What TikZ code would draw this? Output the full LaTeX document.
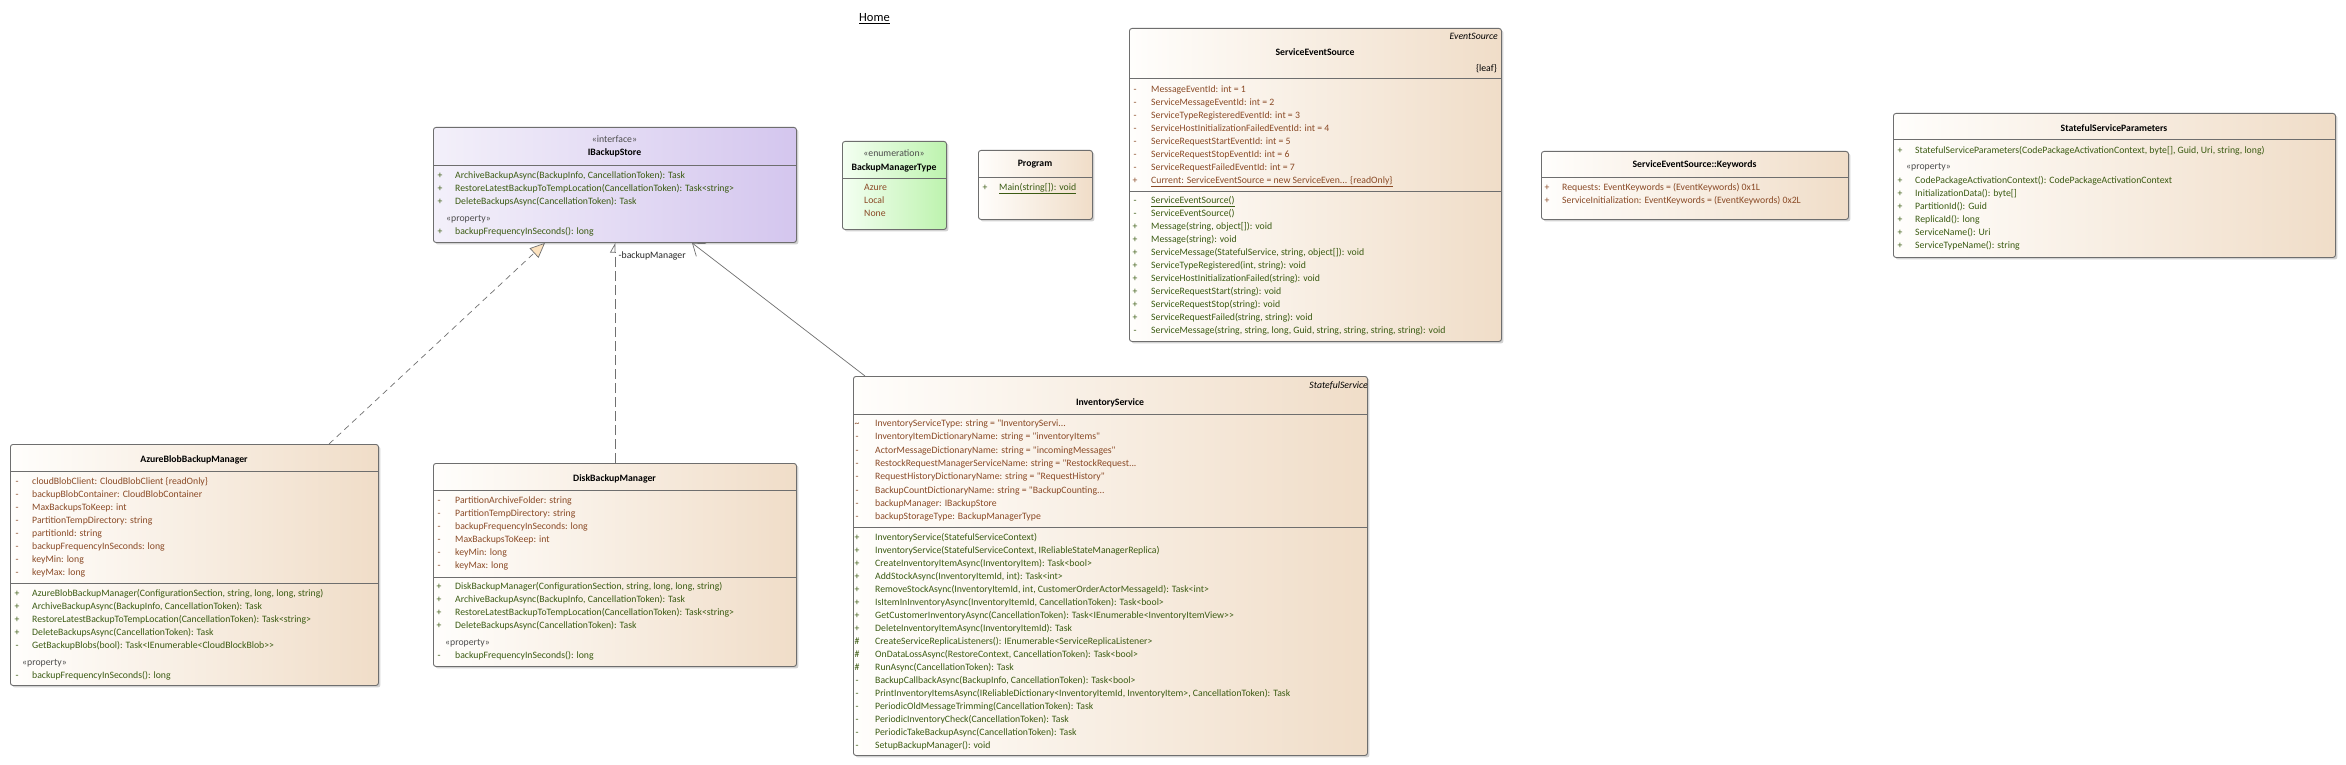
\documentclass[tikz,border=0pt]{standalone}
\usepackage{fontspec}
\newfontfamily\umlfamily{Carlito}
\usetikzlibrary{arrows.meta,shadows}

\definecolor{boxline}{HTML}{6E6E6E}
\definecolor{linecol}{HTML}{707070}
\definecolor{attrcol}{HTML}{8A4A26}
\definecolor{opcol}{HTML}{3B5B12}
\definecolor{beigeL}{HTML}{FFFEFC}
\definecolor{beigeR}{HTML}{F0DDC8}
\definecolor{lilacL}{HTML}{F3F0FA}
\definecolor{lilacR}{HTML}{D4C6EE}
\definecolor{mintL}{HTML}{F4FFF2}
\definecolor{mintR}{HTML}{BDF3AE}
\definecolor{tipfill}{HTML}{FCE2BF}

\newcommand{\qq}{\textquotedbl}

\tikzset{
	umlbox/.style={draw=boxline, line width=0.9pt, rounded corners=2.5pt, anchor=north west, inner sep=0pt,
		drop shadow={shadow xshift=2pt, shadow yshift=-2pt, fill=black!35, opacity=0.5}},
	beige/.style={left color=beigeL, right color=beigeR},
	lilac/.style={left color=lilacL, right color=lilacR},
	mint/.style={left color=mintL, right color=mintR},
	sepline/.style={draw=boxline, line width=0.9pt},
	member/.style={font=\umlfamily\fontsize{9.75}{13}\selectfont, anchor=west, inner sep=0pt, text height=7pt, text depth=2pt},
	attr/.style={member, text=attrcol},
	oper/.style={member, text=opcol},
	vattr/.style={attr, anchor=center},
	voper/.style={oper, anchor=center},
	stereo/.style={member, text=black!70},
	classname/.style={member, anchor=center, font=\umlfamily\bfseries\fontsize{9.75}{13}\selectfont},
	tagged/.style={member, anchor=east, font=\umlfamily\itshape\fontsize{9.75}{13}\selectfont},
	realize/.style={draw=linecol, line width=0.7pt, dash pattern=on 6pt off 4.5pt, -{Triangle[length=15pt, width=13pt, fill=tipfill]}},
	depend/.style={draw=linecol, line width=0.7pt, dash pattern=on 10pt off 4pt, -{Triangle[open, left, length=9pt, width=10pt]}},
	assoc/.style={draw=linecol, line width=0.7pt, -{Straight Barb[length=11pt, width=16pt, line width=0.7pt]}}
}

\begin{document}
\begin{tikzpicture}[x=1pt, y=-1pt]
	\useasboundingbox[fill=white] (0,0) rectangle (2346,765);

	\node[anchor=base west, inner sep=0pt, font=\umlfamily\fontsize{12.5}{14}\selectfont] (home) at (859,22) {\underline{Home}};

	% IBackupStore
	\node[umlbox, lilac, minimum width=363, minimum height=115] (ibs) at (433,127) {};
	\draw[sepline] ([yshift=-38pt]ibs.north west) -- ([yshift=-38pt]ibs.north east);
	\node[stereo, anchor=center] (ibs-st) at (614.5,140) {«interface»};
	\node[classname] (ibs-name) at (614.5,153) {IBackupStore};
	\foreach \vis/\txt [count=\i from 0] in {+/{ArchiveBackupAsync(BackupInfo, CancellationToken): Task},
		+/{RestoreLatestBackupToTempLocation(CancellationToken): Task<string>},
		+/{DeleteBackupsAsync(CancellationToken): Task}} {
		\node[voper] (ibs-vo\i) at (440,176+13*\i) {\vis};
		\node[oper] (ibs-o\i) at (455,176+13*\i) {\txt};
	}
	\node[stereo] (ibs-prop) at (446,219) {«property»};
	\node[voper] (ibs-vp) at (440,232) {+};
	\node[oper] (ibs-p) at (455,232) {backupFrequencyInSeconds(): long};

	% BackupManagerType
	\node[umlbox, mint, minimum width=104, minimum height=88] (bmt) at (842,141) {};
	\draw[sepline] ([yshift=-37pt]bmt.north west) -- ([yshift=-37pt]bmt.north east);
	\node[stereo, anchor=center] (bmt-st) at (894,154) {«enumeration»};
	\node[classname] (bmt-name) at (894,168) {BackupManagerType};
	\foreach \txt [count=\i from 0] in {Azure, Local, None}
		\node[attr] (bmt-a\i) at (864,188+13*\i) {\txt};

	% Program
	\node[umlbox, beige, minimum width=114, minimum height=69] (prog) at (978,150) {};
	\draw[sepline] ([yshift=-27pt]prog.north west) -- ([yshift=-27pt]prog.north east);
	\node[classname] (prog-name) at (1035,164) {Program};
	\node[voper] (prog-vo) at (985,188) {+};
	\node[oper] (prog-o) at (999,188) {\underline{Main(string[]): void}};

	% ServiceEventSource
	\node[umlbox, beige, minimum width=372, minimum height=313] (ses) at (1129,28) {};
	\draw[sepline] ([yshift=-50pt]ses.north west) -- ([yshift=-50pt]ses.north east);
	\draw[sepline] ([yshift=-163pt]ses.north west) -- ([yshift=-163pt]ses.north east);
	\node[tagged] (ses-tag) at (1498,37) {EventSource};
	\node[classname] (ses-name) at (1315,53) {ServiceEventSource};
	\node[member, anchor=east] (ses-leaf) at (1497,69) {\{leaf\}};
	\foreach \vis/\txt [count=\i from 0] in {-/{MessageEventId: int = 1}, -/{ServiceMessageEventId: int = 2},
		-/{ServiceTypeRegisteredEventId: int = 3}, -/{ServiceHostInitializationFailedEventId: int = 4},
		-/{ServiceRequestStartEventId: int = 5}, -/{ServiceRequestStopEventId: int = 6},
		-/{ServiceRequestFailedEventId: int = 7},
		+/{\underline{Current: ServiceEventSource = new ServiceEven... \{readOnly\}}}} {
		\node[vattr] (ses-va\i) at (1135,90+13*\i) {\vis};
		\node[attr] (ses-a\i) at (1151,90+13*\i) {\txt};
	}
	\foreach \vis/\txt [count=\i from 0] in {-/{\underline{ServiceEventSource()}}, -/{ServiceEventSource()},
		+/{Message(string, object[]): void}, +/{Message(string): void},
		+/{ServiceMessage(StatefulService, string, object[]): void}, +/{ServiceTypeRegistered(int, string): void},
		+/{ServiceHostInitializationFailed(string): void}, +/{ServiceRequestStart(string): void},
		+/{ServiceRequestStop(string): void}, +/{ServiceRequestFailed(string, string): void},
		-/{ServiceMessage(string, string, long, Guid, string, string, string, string): void}} {
		\node[voper] (ses-vo\i) at (1135,201+13*\i) {\vis};
		\node[oper] (ses-o\i) at (1151,201+13*\i) {\txt};
	}

	% ServiceEventSource::Keywords
	\node[umlbox, beige, minimum width=307, minimum height=68] (kw) at (1541,151) {};
	\draw[sepline] ([yshift=-26pt]kw.north west) -- ([yshift=-26pt]kw.north east);
	\node[classname] (kw-name) at (1694.5,165) {ServiceEventSource::Keywords};
	\foreach \vis/\txt [count=\i from 0] in {+/{Requests: EventKeywords = (EventKeywords) 0x1L},
		+/{ServiceInitialization: EventKeywords = (EventKeywords) 0x2L}} {
		\node[vattr] (kw-va\i) at (1547,188+13*\i) {\vis};
		\node[attr] (kw-a\i) at (1562,188+13*\i) {\txt};
	}

	% StatefulServiceParameters
	\node[umlbox, beige, minimum width=442, minimum height=144] (ssp) at (1893,113) {};
	\draw[sepline] ([yshift=-26pt]ssp.north west) -- ([yshift=-26pt]ssp.north east);
	\node[classname] (ssp-name) at (2114,129) {StatefulServiceParameters};
	\node[voper] (ssp-vc) at (1900,151) {+};
	\node[oper] (ssp-c) at (1915,151) {StatefulServiceParameters(CodePackageActivationContext, byte[], Guid, Uri, string, long)};
	\node[stereo] (ssp-prop) at (1906,167) {«property»};
	\foreach \txt [count=\i from 0] in {CodePackageActivationContext(): CodePackageActivationContext,
		InitializationData(): byte[], PartitionId(): Guid, ReplicaId(): long, ServiceName(): Uri,
		ServiceTypeName(): string} {
		\node[voper] (ssp-vp\i) at (1900,181+13*\i) {+};
		\node[oper] (ssp-p\i) at (1915,181+13*\i) {\txt};
	}

	% AzureBlobBackupManager
	\node[umlbox, beige, minimum width=368, minimum height=241] (azure) at (10,444) {};
	\draw[sepline] ([yshift=-27pt]azure.north west) -- ([yshift=-27pt]azure.north east);
	\draw[sepline] ([yshift=-139pt]azure.north west) -- ([yshift=-139pt]azure.north east);
	\node[classname] (azure-name) at (194,460) {AzureBlobBackupManager};
	\foreach \txt [count=\i from 0] in {cloudBlobClient: CloudBlobClient \{readOnly\},
		backupBlobContainer: CloudBlobContainer, MaxBackupsToKeep: int, PartitionTempDirectory: string,
		partitionId: string, backupFrequencyInSeconds: long, keyMin: long, keyMax: long} {
		\node[vattr] (azure-va\i) at (17,482+13*\i) {-};
		\node[attr] (azure-a\i) at (32,482+13*\i) {\txt};
	}
	\foreach \vis/\txt [count=\i from 0] in {+/{AzureBlobBackupManager(ConfigurationSection, string, long, long, string)},
		+/{ArchiveBackupAsync(BackupInfo, CancellationToken): Task},
		+/{RestoreLatestBackupToTempLocation(CancellationToken): Task<string>},
		+/{DeleteBackupsAsync(CancellationToken): Task},
		-/{GetBackupBlobs(bool): Task<IEnumerable<CloudBlockBlob>>}} {
		\node[voper] (azure-vo\i) at (17,594+13*\i) {\vis};
		\node[oper] (azure-o\i) at (32,594+13*\i) {\txt};
	}
	\node[stereo] (azure-prop) at (22,663) {«property»};
	\node[voper] (azure-vp) at (17,676) {-};
	\node[oper] (azure-p) at (32,676) {backupFrequencyInSeconds(): long};

	% DiskBackupManager
	\node[umlbox, beige, minimum width=363, minimum height=203] (disk) at (433,463) {};
	\draw[sepline] ([yshift=-27pt]disk.north west) -- ([yshift=-27pt]disk.north east);
	\draw[sepline] ([yshift=-114pt]disk.north west) -- ([yshift=-114pt]disk.north east);
	\node[classname] (disk-name) at (614.5,479) {DiskBackupManager};
	\foreach \txt [count=\i from 0] in {PartitionArchiveFolder: string, PartitionTempDirectory: string,
		backupFrequencyInSeconds: long, MaxBackupsToKeep: int, keyMin: long, keyMax: long} {
		\node[vattr] (disk-va\i) at (439,501+13*\i) {-};
		\node[attr] (disk-a\i) at (455,501+13*\i) {\txt};
	}
	\foreach \txt [count=\i from 0] in {{DiskBackupManager(ConfigurationSection, string, long, long, string)},
		{ArchiveBackupAsync(BackupInfo, CancellationToken): Task},
		{RestoreLatestBackupToTempLocation(CancellationToken): Task<string>},
		{DeleteBackupsAsync(CancellationToken): Task}} {
		\node[voper] (disk-vo\i) at (439,587+13*\i) {+};
		\node[oper] (disk-o\i) at (455,587+13*\i) {\txt};
	}
	\node[stereo] (disk-prop) at (445,643) {«property»};
	\node[voper] (disk-vp) at (439,656) {-};
	\node[oper] (disk-p) at (455,656) {backupFrequencyInSeconds(): long};

	% InventoryService
	\node[umlbox, beige, minimum width=514, minimum height=379] (inv) at (853,376) {};
	\draw[sepline] ([yshift=-38pt]inv.north west) -- ([yshift=-38pt]inv.north east);
	\draw[sepline] ([yshift=-151pt]inv.north west) -- ([yshift=-151pt]inv.north east);
	\node[tagged] (inv-tag) at (1368,386) {StatefulService};
	\node[classname] (inv-name) at (1110,403) {InventoryService};
	\foreach \vis/\txt [count=\i from 0] in {\textasciitilde/{InventoryServiceType: string = \qq InventoryServi...},
		-/{InventoryItemDictionaryName: string = \qq inventoryItems\qq},
		-/{ActorMessageDictionaryName: string = \qq incomingMessages\qq},
		-/{RestockRequestManagerServiceName: string = \qq RestockRequest...},
		-/{RequestHistoryDictionaryName: string = \qq RequestHistory\qq},
		-/{BackupCountDictionaryName: string = \qq BackupCounting...},
		-/{backupManager: IBackupStore}, -/{backupStorageType: BackupManagerType}} {
		\node[vattr] (inv-va\i) at (857,424+13.3*\i) {\vis};
		\node[attr] (inv-a\i) at (875,424+13.3*\i) {\txt};
	}
	\foreach \vis/\txt [count=\i from 0] in {+/{InventoryService(StatefulServiceContext)},
		+/{InventoryService(StatefulServiceContext, IReliableStateManagerReplica)},
		+/{CreateInventoryItemAsync(InventoryItem): Task<bool>},
		+/{AddStockAsync(InventoryItemId, int): Task<int>},
		+/{RemoveStockAsync(InventoryItemId, int, CustomerOrderActorMessageId): Task<int>},
		+/{IsItemInInventoryAsync(InventoryItemId, CancellationToken): Task<bool>},
		+/{GetCustomerInventoryAsync(CancellationToken): Task<IEnumerable<InventoryItemView>>},
		+/{DeleteInventoryItemAsync(InventoryItemId): Task},
		\#/{CreateServiceReplicaListeners(): IEnumerable<ServiceReplicaListener>},
		\#/{OnDataLossAsync(RestoreContext, CancellationToken): Task<bool>},
		\#/{RunAsync(CancellationToken): Task},
		-/{BackupCallbackAsync(BackupInfo, CancellationToken): Task<bool>},
		-/{PrintInventoryItemsAsync(IReliableDictionary<InventoryItemId, InventoryItem>, CancellationToken): Task},
		-/{PeriodicOldMessageTrimming(CancellationToken): Task},
		-/{PeriodicInventoryCheck(CancellationToken): Task},
		-/{PeriodicTakeBackupAsync(CancellationToken): Task},
		-/{SetupBackupManager(): void}} {
		\node[voper] (inv-vo\i) at (857,538+13*\i) {\vis};
		\node[oper] (inv-o\i) at (875,538+13*\i) {\txt};
	}

	% connectors
	\draw[realize] ([xshift=319pt]azure.north west) -- ([xshift=112pt]ibs.south west);
	\draw[depend] ([xshift=182pt]disk.north west) -- ([xshift=182pt]ibs.south west);
	\draw[assoc] ([xshift=12pt]inv.north west) -- ([xshift=259pt]ibs.south west);
	\node[member, text=black!85] (lbl) at (618.5,256) {-backupManager};
\end{tikzpicture}
\end{document}
